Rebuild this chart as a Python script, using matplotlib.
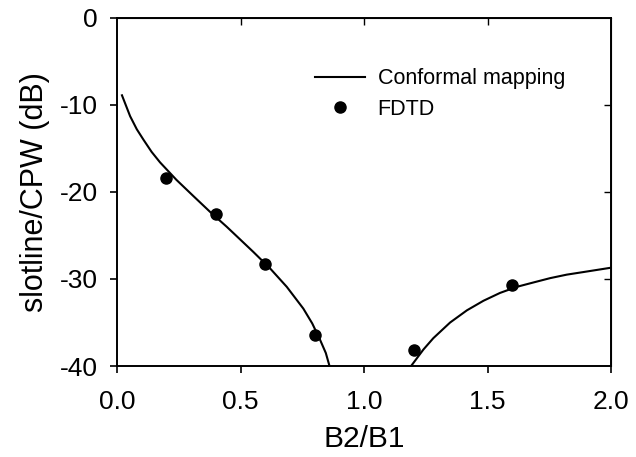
import matplotlib
matplotlib.use("Agg")
import matplotlib.pyplot as plt

plt.rcParams['font.family'] = ['Liberation Sans', 'DejaVu Sans']
plt.rcParams['axes.unicode_minus'] = False

# conformal mapping curve, two branches
cm_x1 = [0.02, 0.053, 0.08, 0.107, 0.14, 0.174, 0.24, 0.31, 0.377, 0.444,
         0.485, 0.552, 0.62, 0.687, 0.754, 0.79, 0.822, 0.845, 0.86]
cm_y1 = [-8.9, -11.3, -12.8, -14.0, -15.4, -16.6, -18.6, -20.5, -22.3, -24.0,
         -25.1, -26.9, -28.8, -30.9, -33.4, -35.1, -37.0, -38.5, -40.0]
cm_x2 = [1.19, 1.24, 1.28, 1.348, 1.416, 1.483, 1.55, 1.618, 1.685, 1.753,
         1.82, 1.888, 2.0]
cm_y2 = [-40.0, -38.1, -36.8, -35.0, -33.6, -32.5, -31.6, -30.9, -30.4, -29.9,
         -29.5, -29.2, -28.7]

# FDTD points
fdtd_x = [0.2, 0.4, 0.6, 0.8, 1.2, 1.6]
fdtd_y = [-18.4, -22.5, -28.3, -36.4, -38.2, -30.7]

fig = plt.figure(figsize=(6.36, 4.57), dpi=100)
ax = fig.add_axes([0.184, 0.199, 0.777, 0.762])

ax.plot(cm_x1, cm_y1, color='black', lw=1.5, label='Conformal mapping')
ax.plot(cm_x2, cm_y2, color='black', lw=1.5)
ax.plot(fdtd_x, fdtd_y, 'o', color='black', ms=8, label='FDTD', clip_on=False)

ax.set_xlim(0, 2.0)
ax.set_ylim(-40, 0)
ax.set_xticks([0.0, 0.5, 1.0, 1.5, 2.0])
ax.set_yticks([0, -10, -20, -30, -40])
ax.set_xticklabels(['0.0', '0.5', '1.0', '1.5', '2.0'])

for s in ax.spines.values():
    s.set_linewidth(1.4)

ax.tick_params(axis='both', which='both', labelsize=19, width=1.2, length=5,
               direction='out')
ax.tick_params(axis='x', pad=12)
ax.tick_params(axis='y', pad=9)
# right/top ticks point inward
ax2 = ax.secondary_xaxis('top')
ax2.set_xticks([0.5, 1.0, 1.5])
ax2.tick_params(direction='in', length=5, width=1.0, labeltop=False)
ax3 = ax.secondary_yaxis('right')
ax3.set_yticks([-10, -20, -30])
ax3.tick_params(direction='in', length=5, width=1.0, labelright=False)

ax.set_xlabel('B2/B1', fontsize=21.5, labelpad=8)
ax.set_ylabel('slotline/CPW (dB)', fontsize=22, labelpad=7)

ax.legend(loc='upper left', bbox_to_anchor=(0.401, 0.855), frameon=False,
          fontsize=15.5, handlelength=2.3, handletextpad=0.6, labelspacing=0.45,
          borderpad=0, borderaxespad=0)

fig.savefig('out.png', dpi=100)
